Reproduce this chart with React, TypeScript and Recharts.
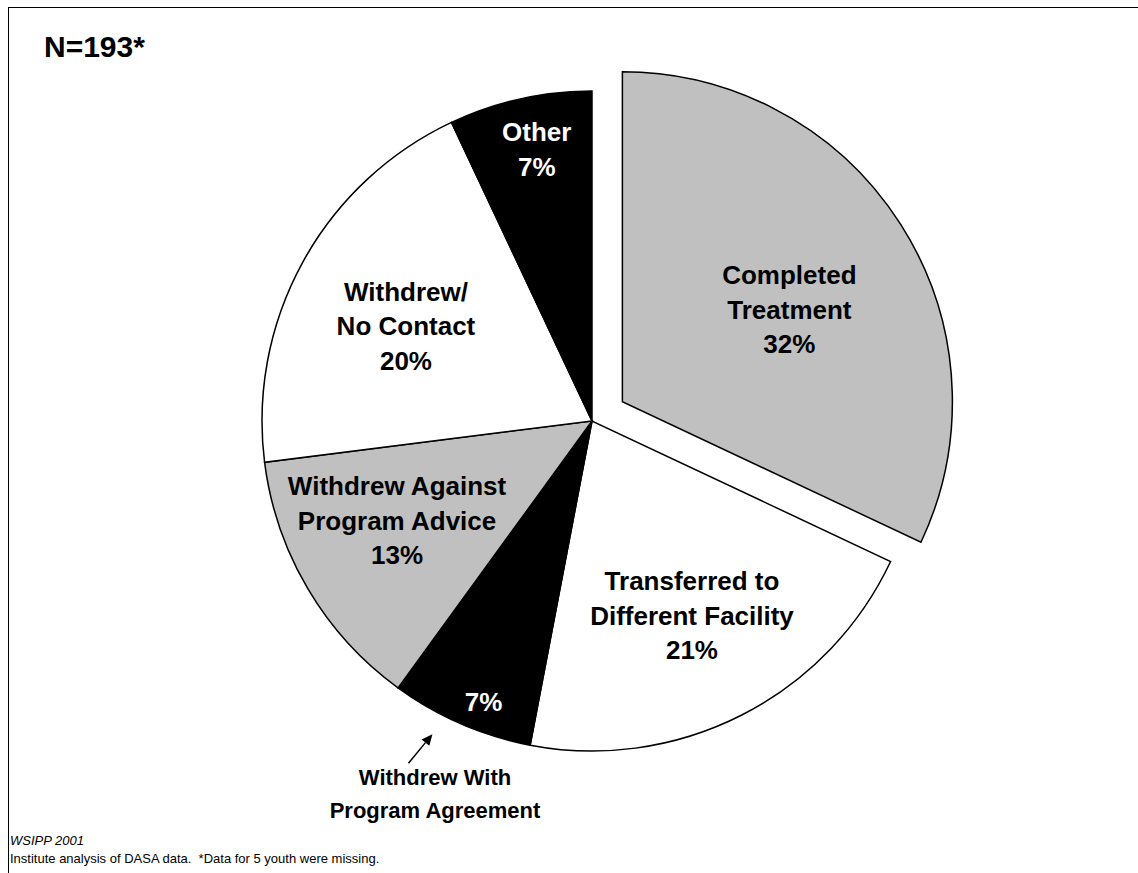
import { Cell, Pie, PieChart } from "recharts";

const categories = [
  "Completed Treatment",
  "Transferred to Different Facility",
  "Withdrew With Program Agreement",
  "Withdrew Against Program Advice",
  "Withdrew/ No Contact",
  "Other",
];
const shares = [32, 21, 7, 13, 20, 7];
const fills = ["#c0c0c0", "#ffffff", "#000000", "#c0c0c0", "#ffffff", "#000000"];
const insideLines = [
  ["Completed", "Treatment"],
  ["Transferred to", "Different Facility"],
  [],
  ["Withdrew Against", "Program Advice"],
  ["Withdrew/", "No Contact"],
  ["Other"],
];
const calloutLines = ["Withdrew With", "Program Agreement"];
const explodedIndex = 0;
const calloutIndex = 2;

// label placement: fraction of radius and angle tweak (deg) from the slice mid angle
const labelRadius = [0.578, 0.664, 0.912, 0.664, 0.633, 0.84];
const labelShift = [-3.5, 0.15, 2.3, -3.45, 1.75, -1.1];

const W = 1138;
const H = 873;
const CX = 592;
const CY = 421;
const R = 330;
const EXPLODE = 36;
const RAD = Math.PI / 180;
const FONT = "'Liberation Sans', Arial, sans-serif";
const LINE_H = 34.5;

const data = categories.map((name, i) => ({ name, value: shares[i], idx: i }));

const total = shares.reduce((a, b) => a + b, 0);
const before = shares.slice(0, explodedIndex).reduce((a, b) => a + b, 0);
const explodeMid = 90 - ((before + shares[explodedIndex] / 2) / total) * 360;
const dx = EXPLODE * Math.cos(explodeMid * RAD);
const dy = -EXPLODE * Math.sin(explodeMid * RAD);

function polar(cx: number, cy: number, r: number, angle: number) {
  return { x: cx + r * Math.cos(angle * RAD), y: cy - r * Math.sin(angle * RAD) };
}

function renderLabel(props: any, visible: (i: number) => boolean) {
  const { cx, cy, midAngle, outerRadius } = props;
  const i: number = props.payload?.idx ?? props.idx;
  if (!visible(i)) return <g />;
  const pos = polar(cx, cy, outerRadius * labelRadius[i], midAngle + labelShift[i]);
  const lines = [...insideLines[i], `${shares[i]}%`];
  const color = fills[i] === "#000000" ? "#ffffff" : "#000000";
  const n = lines.length;

  let callout = null;
  if (i === calloutIndex) {
    const tail = polar(cx, cy, outerRadius * 1.177, midAngle - 4.8);
    const tip = polar(cx, cy, outerRadius * 1.065, midAngle - 3.6);
    const ux = tip.x - tail.x;
    const uy = tip.y - tail.y;
    const len = Math.hypot(ux, uy);
    const nx = ux / len;
    const ny = uy / len;
    const hl = 11;
    const hw = 5;
    const bx = tip.x - nx * hl;
    const by = tip.y - ny * hl;
    const txt = polar(cx, cy, outerRadius * 1.225, midAngle + 0.55);
    callout = (
      <g>
        <line x1={tail.x} y1={tail.y} x2={bx} y2={by} stroke="#000" strokeWidth={1.5} />
        <polygon
          points={`${tip.x},${tip.y} ${bx - ny * hw},${by + nx * hw} ${bx + ny * hw},${by - nx * hw}`}
          fill="#000"
        />
        {calloutLines.map((t, k) => (
          <text
            key={k}
            x={txt.x}
            y={txt.y + (k - 0.5) * 33}
            textAnchor="middle"
            dominantBaseline="central"
            fontFamily={FONT}
            fontWeight="bold"
            fontSize={22}
            fill="#000"
          >
            {t}
          </text>
        ))}
      </g>
    );
  }

  return (
    <g>
      {lines.map((t, k) => (
        <text
          key={k}
          x={pos.x}
          y={pos.y + (k - (n - 1) / 2) * LINE_H}
          textAnchor="middle"
          dominantBaseline="central"
          fontFamily={FONT}
          fontWeight="bold"
          fontSize={26}
          fill={color}
        >
          {t}
        </text>
      ))}
      {callout}
    </g>
  );
}

export default function App() {
  return (
    <div
      style={{
        position: "fixed",
        left: 0,
        top: 0,
        width: W,
        height: H,
        background: "#fff",
        fontFamily: FONT,
      }}
    >
      <div
        style={{
          position: "absolute",
          left: 8,
          top: 7,
          width: W - 8,
          height: H - 7,
          borderTop: "1.5px solid #000",
          borderLeft: "1.5px solid #000",
          boxSizing: "border-box",
        }}
      />
      <div
        style={{
          position: "absolute",
          left: 44,
          top: 31,
          fontSize: 30,
          fontWeight: "bold",
          lineHeight: "32px",
        }}
      >
        N=193*
      </div>
      <PieChart
        width={W}
        height={H}
        margin={{ top: 0, right: 0, bottom: 0, left: 0 }}
        style={{ position: "absolute", left: 0, top: 0 }}
      >
        <Pie
          data={data}
          dataKey="value"
          nameKey="name"
          cx={CX}
          cy={CY}
          outerRadius={R}
          startAngle={90}
          endAngle={-270}
          stroke="#000"
          strokeWidth={1.5}
          labelLine={false}
          label={(p: any) => renderLabel(p, (i) => i !== explodedIndex)}
          isAnimationActive={false}
        >
          {data.map((d, i) => (
            <Cell
              key={d.name}
              fill={i === explodedIndex ? "none" : fills[i]}
              stroke={i === explodedIndex ? "none" : "#000"}
            />
          ))}
        </Pie>
        <Pie
          data={data}
          dataKey="value"
          nameKey="name"
          cx={CX + dx}
          cy={CY + dy}
          outerRadius={R}
          startAngle={90}
          endAngle={-270}
          stroke="#000"
          strokeWidth={1.5}
          labelLine={false}
          label={(p: any) => renderLabel(p, (i) => i === explodedIndex)}
          isAnimationActive={false}
        >
          {data.map((d, i) => (
            <Cell
              key={d.name}
              fill={i === explodedIndex ? fills[i] : "none"}
              stroke={i === explodedIndex ? "#000" : "none"}
            />
          ))}
        </Pie>
      </PieChart>
      <div
        style={{
          position: "absolute",
          left: 10,
          top: 832,
          fontSize: 13,
          lineHeight: "18px",
          color: "#000",
        }}
      >
        <div style={{ fontStyle: "italic" }}>WSIPP 2001</div>
        <div>Institute analysis of DASA data.&nbsp; *Data for 5 youth were missing.</div>
      </div>
    </div>
  );
}
